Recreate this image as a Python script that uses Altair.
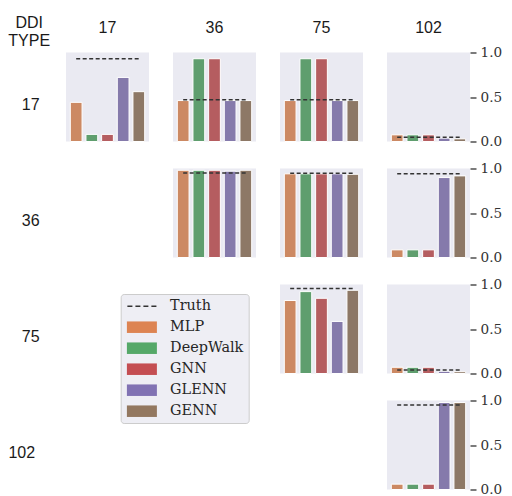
import altair as alt
import pandas as pd

# ---- data ----
ROW_KEYS = ["17", "36", "75", "102"]
COL_KEYS = ["17", "36", "75", "102"]
PANEL_ROW = ["17", "17", "17", "17", "36", "36", "36", "75", "75", "102"]
PANEL_COL = ["17", "36", "75", "102", "36", "75", "102", "75", "102", "102"]

MODELS = ["MLP", "DeepWalk", "GNN", "GLENN", "GENN"]
MLP = [0.44, 0.46, 0.46, 0.075, 0.98, 0.94, 0.086, 0.82, 0.07, 0.06]
DEEPWALK = [0.08, 0.93, 0.93, 0.075, 0.98, 0.94, 0.086, 0.92, 0.07, 0.06]
GNN = [0.08, 0.93, 0.93, 0.075, 0.98, 0.94, 0.086, 0.845, 0.07, 0.06]
GLENN = [0.72, 0.46, 0.46, 0.038, 0.97, 0.94, 0.898, 0.585, 0.025, 0.977]
GENN = [0.56, 0.46, 0.46, 0.03, 0.98, 0.935, 0.917, 0.935, 0.02, 0.977]
TRUTH = [0.93, 0.47, 0.47, 0.049, 0.95, 0.946, 0.94, 0.955, 0.04, 0.95]

LEGEND_LABELS = ["Truth"] + MODELS
Y_TICKS = [0.0, 0.5, 1.0]

# ---- styles ----
BAR_COLORS = ["#CC8963", "#5F9E6E", "#B55D60", "#857AAB", "#8D7866"]
LEGEND_COLORS = ["#333333", "#DD8452", "#55A868", "#C44E52", "#8172B3", "#937860"]
# legend glyphs drawn to the right of the symbol anchor (unit = 6 px)
RECT = "M-1,-0.96H4V0.96H-1Z"
DASH = ("M-0.92,-0.13H-0.08V0.13H-0.92Z M0.42,-0.13H1.25V0.13H0.42Z "
        "M1.75,-0.13H2.58V0.13H1.75Z M3.08,-0.13H3.92V0.13H3.08Z")
LEGEND_SHAPES = [DASH] + [RECT] * 5

series_values = [MLP, DEEPWALK, GNN, GLENN, GENN]
present = set(zip(PANEL_ROW, PANEL_COL))
records = []
for r in ROW_KEYS:
    for c in COL_KEYS:
        if (r, c) not in present:
            # empty grid cell (lower triangle): keeps the facet grid aligned
            records.append({"row": r, "col": c, "series": MODELS[0], "value": None,
                            "truth": None, "first": MODELS[0], "last": MODELS[-1], "has": 0})
for i, (r, c) in enumerate(zip(PANEL_ROW, PANEL_COL)):
    for m, vals in zip(MODELS, series_values):
        records.append({"row": r, "col": c, "series": m, "value": vals[i],
                        "truth": TRUTH[i], "first": MODELS[0], "last": MODELS[-1], "has": 1})
df = pd.DataFrame(records)

W, H = 83, 89
xscale = alt.Scale(domain=MODELS, paddingInner=0.25, paddingOuter=0.275)
yscale = alt.Scale(domain=[0, 1], nice=False, zero=True)

is_panel = alt.datum.has == 1
one_per_panel = (alt.datum.has == 1) & (alt.datum.series == MODELS[0])

bg = alt.Chart().transform_filter(one_per_panel).mark_rect(
    color="#EAEAF2").encode(
    x=alt.value(0), x2=alt.value(W), y=alt.value(0), y2=alt.value(H))

bars = alt.Chart().transform_filter(is_panel).mark_bar(stroke="white", strokeWidth=1).encode(
    x=alt.X("series:N", scale=xscale, axis=None),
    y=alt.Y("value:Q", scale=yscale,
            axis=alt.Axis(orient="right", values=Y_TICKS, format=".1f", title=None,
                          grid=False, domain=False, tickSize=6, tickWidth=1.3,
                          tickColor="#333333", labelFont="DejaVu Serif",
                          labelFontSize=13.6, labelColor="#333333", labelPadding=4)),
    fill=alt.Fill("series:N", scale=alt.Scale(domain=MODELS, range=BAR_COLORS),
                  legend=None),
)

truth = alt.Chart().transform_filter(one_per_panel).mark_rule(
    color="#333333", strokeDash=[4, 2.5], strokeWidth=1.5).encode(
    x=alt.X("first:N", scale=xscale, bandPosition=0.5),
    x2=alt.X2("last:N", bandPosition=0.5),
    y=alt.Y("truth:Q", scale=yscale),
)

leg = alt.Legend(orient="none", legendX=54.7, legendY=241.5, title=None,
                 labelFont="DejaVu Serif", labelFontSize=14.4, labelColor="#262626",
                 symbolSize=144, symbolOpacity=1, symbolStrokeWidth=0,
                 rowPadding=6, labelOffset=30, padding=5,
                 fillColor="#EEEEF4", strokeColor="#CCCCCC", cornerRadius=3)

pts = alt.Chart().transform_filter(is_panel).mark_point(filled=True, opacity=0).encode(
    x=alt.X("series:N", scale=xscale),
    y=alt.Y("value:Q", scale=yscale),
    color=alt.Color("series:N", scale=alt.Scale(domain=LEGEND_LABELS, range=LEGEND_COLORS),
                    legend=leg),
    shape=alt.Shape("series:N", scale=alt.Scale(domain=LEGEND_LABELS, range=LEGEND_SHAPES),
                    legend=leg),
)

layer = alt.layer(bg, bars, truth, pts).properties(width=W, height=H)

chart = layer.facet(
    data=df,
    row=alt.Row("row:N", sort=ROW_KEYS,
                header=alt.Header(title=None, labelAngle=0, labelAlign="center",
                                  labelBaseline="top",
                                  labelFont="Liberation Sans", labelFontSize=16,
                                  labelColor="#1a1a1a", labelPadding=17.5)),
    column=alt.Column("col:N", sort=COL_KEYS,
                      header=alt.Header(title=None, labelFont="Liberation Sans",
                                        labelFontSize=16, labelColor="#1a1a1a",
                                        labelPadding=16.5)),
    spacing={"row": 27, "column": 24},
    bounds="flush",
).properties(
    title=alt.TitleParams(text=["DDI", "TYPE"], anchor="start", frame="bounds",
                          align="center", dx=20.7, offset=-28.5, font="Liberation Sans",
                          fontSize=16, fontWeight="normal", color="#1a1a1a",
                          lineHeight=18),
    padding={"top": 6.5, "left": 0, "right": 0, "bottom": 0},
).configure_view(strokeWidth=0)

chart.save("out.html", embed_options={"renderer": "svg", "actions": False})
